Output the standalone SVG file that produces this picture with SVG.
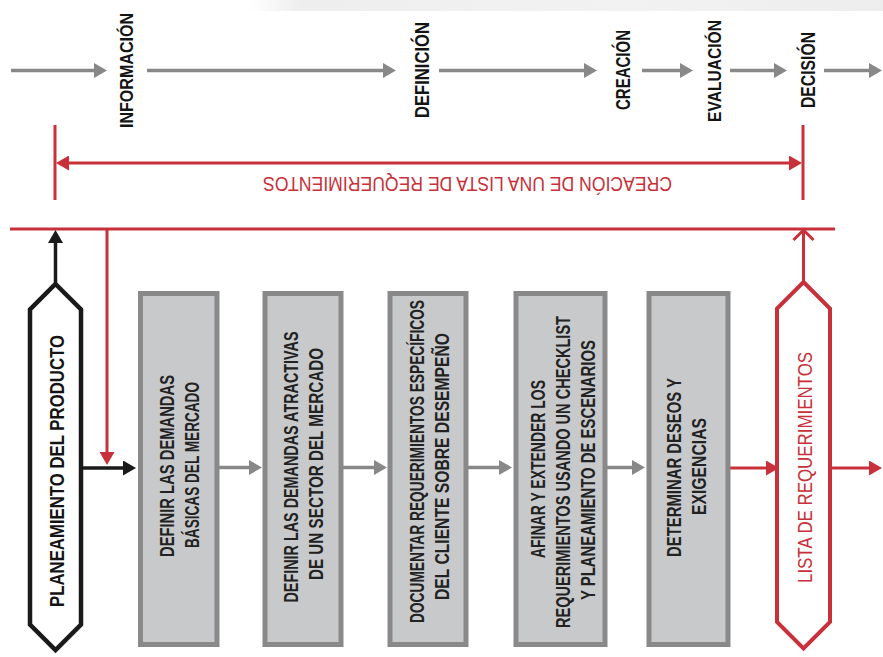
<svg xmlns="http://www.w3.org/2000/svg" width="883" height="657" viewBox="0 0 883 657">
<defs>
<style>
text { font-family: "Liberation Sans", Arial, sans-serif; }
.lbl { font-size: 20.5px; font-weight: bold; fill: #141414; }
.sm { font-size: 19px; }
.bt { font-size: 20.5px; font-weight: bold; fill: #222222; }
.ht { font-size: 21px; fill: #141414; font-weight: bold; }
.rt { font-size: 20.5px; fill: #c8303a; }
.box { fill: #c8c9cb; stroke: #898989; stroke-width: 5; }
.g { stroke: #888888; stroke-width: 3.5; fill: none; }
.r { stroke: #c8303a; stroke-width: 3; fill: none; }
.k { stroke: #1a1a1a; stroke-width: 3.5; fill: none; }
</style>
<linearGradient id="bg" x1="0" y1="0" x2="1" y2="0">
<stop offset="0" stop-color="#ffffff"/>
<stop offset="0.08" stop-color="#eeeeee"/>
<stop offset="0.6" stop-color="#f2f2f2"/>
<stop offset="1" stop-color="#ededed"/>
</linearGradient>
<marker id="ag" markerUnits="userSpaceOnUse" viewBox="0 0 13 15" markerWidth="13" markerHeight="15" refX="2" refY="7.5" orient="auto"><path d="M0,0 L13,7.5 L0,15z" fill="#888888"/></marker>
<marker id="ak" markerUnits="userSpaceOnUse" viewBox="0 0 13 15" markerWidth="13" markerHeight="15" refX="2" refY="7.5" orient="auto"><path d="M0,0 L13,7.5 L0,15z" fill="#1a1a1a"/></marker>
<marker id="ar" markerUnits="userSpaceOnUse" viewBox="0 0 13 15" markerWidth="13" markerHeight="15" refX="2" refY="7.5" orient="auto-start-reverse"><path d="M0,0 L13,7.5 L0,15z" fill="#c8303a"/></marker>
<marker id="aro" markerUnits="userSpaceOnUse" viewBox="0 0 12 22" markerWidth="12" markerHeight="22" refX="11" refY="11" orient="auto" overflow="visible"><path d="M1,1 L11,11 L1,21" fill="none" stroke="#c8303a" stroke-width="3"/></marker>
</defs>
<rect width="883" height="657" fill="#ffffff"/>
<rect x="250" y="0" width="633" height="11" fill="url(#bg)"/>

<g id="phase-labels">
<text class="lbl sm" transform="translate(133,70.5) rotate(-90)" text-anchor="middle" textLength="115" lengthAdjust="spacingAndGlyphs">INFORMACIÓN</text>
<text class="lbl" transform="translate(428.5,70) rotate(-90)" text-anchor="middle" textLength="96" lengthAdjust="spacingAndGlyphs">DEFINICIÓN</text>
<text class="lbl" transform="translate(629.5,70) rotate(-90)" text-anchor="middle" textLength="80" lengthAdjust="spacingAndGlyphs">CREACIÓN</text>
<text class="lbl sm" transform="translate(721,71) rotate(-90)" text-anchor="middle" textLength="102" lengthAdjust="spacingAndGlyphs">EVALUACIÓN</text>
<text class="lbl" transform="translate(814.5,70) rotate(-90)" text-anchor="middle" textLength="76" lengthAdjust="spacingAndGlyphs">DECISIÓN</text>
</g>

<g id="bracket">
<line class="r" x1="55" y1="125" x2="55" y2="200"/>
<line class="r" x1="803" y1="125" x2="803" y2="200"/>
<line class="r" x1="67" y1="163" x2="791" y2="163" marker-start="url(#ar)" marker-end="url(#ar)"/>
<text class="rt" transform="translate(467.5,177) rotate(180)" text-anchor="middle" textLength="409" lengthAdjust="spacingAndGlyphs">CREACIÓN DE UNA LISTA DE REQUERIMIENTOS</text>
</g>

<g id="connectors">
<line class="g" x1="11" y1="70.5" x2="96" y2="70.5" marker-end="url(#ag)"/>
<line class="g" x1="147" y1="70.5" x2="385" y2="70.5" marker-end="url(#ag)"/>
<line class="g" x1="439" y1="70.5" x2="586" y2="70.5" marker-end="url(#ag)"/>
<line class="g" x1="642" y1="70.5" x2="682" y2="70.5" marker-end="url(#ag)"/>
<line class="g" x1="730" y1="70.5" x2="776" y2="70.5" marker-end="url(#ag)"/>
<line class="g" x1="824" y1="70.5" x2="871" y2="70.5" marker-end="url(#ag)"/>
<line class="r" x1="10" y1="229" x2="835" y2="229"/>
<line class="r" x1="107" y1="229" x2="107" y2="454" marker-end="url(#ar)"/>
<line class="k" x1="55.5" y1="283" x2="55.5" y2="241" marker-end="url(#ak)"/>
<line class="k" x1="81" y1="468" x2="125" y2="468" marker-end="url(#ak)"/>
<line class="g" x1="219" y1="467.5" x2="251" y2="467.5" marker-end="url(#ag)"/>
<line class="g" x1="343" y1="467.5" x2="376" y2="467.5" marker-end="url(#ag)"/>
<line class="g" x1="468" y1="467.5" x2="501" y2="467.5" marker-end="url(#ag)"/>
<line class="g" x1="607" y1="467.5" x2="634" y2="467.5" marker-end="url(#ag)"/>
<line class="r" x1="730" y1="468" x2="768" y2="468" marker-end="url(#ar)"/>
<line class="r" x1="831" y1="468" x2="871" y2="468" marker-end="url(#ar)"/>
<line class="r" x1="803.5" y1="282" x2="803.5" y2="230" marker-end="url(#aro)"/>
</g>

<g id="planeamiento">
<polygon points="55.5,284 81,309.5 81,624.5 55.5,650 30,624.5 30,309.5" fill="#ffffff" stroke="#1a1a1a" stroke-width="4.5"/>
<text class="ht" transform="translate(63.5,471) rotate(-90)" text-anchor="middle" textLength="272" lengthAdjust="spacingAndGlyphs">PLANEAMIENTO DEL PRODUCTO</text>
</g>

<g id="box1">
<rect class="box" x="140.5" y="293.5" width="76.5" height="351"/>
<text class="bt" transform="translate(173.5,466) rotate(-90)" text-anchor="middle" textLength="182" lengthAdjust="spacingAndGlyphs">DEFINIR LAS DEMANDAS</text>
<text class="bt" transform="translate(198.5,465) rotate(-90)" text-anchor="middle" textLength="166" lengthAdjust="spacingAndGlyphs">BÁSICAS DEL MERCADO</text>
</g>

<g id="box2">
<rect class="box" x="265" y="293.5" width="76" height="351"/>
<text class="bt" transform="translate(297.5,467) rotate(-90)" text-anchor="middle" textLength="271" lengthAdjust="spacingAndGlyphs">DEFINIR LAS DEMANDAS ATRACTIVAS</text>
<text class="bt" transform="translate(322.5,464) rotate(-90)" text-anchor="middle" textLength="232" lengthAdjust="spacingAndGlyphs">DE UN SECTOR DEL MERCADO</text>
</g>

<g id="box3">
<rect class="box" x="390" y="293.5" width="76" height="351"/>
<text class="bt" transform="translate(423.5,461.5) rotate(-90)" text-anchor="middle" textLength="323" lengthAdjust="spacingAndGlyphs">DOCUMENTAR REQUERIMIENTOS ESPECÍFICOS</text>
<text class="bt" transform="translate(448.5,466.5) rotate(-90)" text-anchor="middle" textLength="267" lengthAdjust="spacingAndGlyphs">DEL CLIENTE SOBRE DESEMPEÑO</text>
</g>

<g id="box4">
<rect class="box" x="516" y="293.5" width="89" height="351"/>
<text class="bt" transform="translate(545,469) rotate(-90)" text-anchor="middle" textLength="178" lengthAdjust="spacingAndGlyphs">AFINAR Y EXTENDER LOS</text>
<text class="bt" transform="translate(570,472) rotate(-90)" text-anchor="middle" textLength="312" lengthAdjust="spacingAndGlyphs">REQUERIMIENTOS USANDO UN CHECKLIST</text>
<text class="bt" transform="translate(595,470) rotate(-90)" text-anchor="middle" textLength="260" lengthAdjust="spacingAndGlyphs">Y PLANEAMIENTO DE ESCENARIOS</text>
</g>

<g id="box5">
<rect class="box" x="649" y="293.5" width="79" height="351"/>
<text class="bt" transform="translate(680.5,467.5) rotate(-90)" text-anchor="middle" textLength="179" lengthAdjust="spacingAndGlyphs">DETERMINAR DESEOS Y</text>
<text class="bt" transform="translate(705.5,466.5) rotate(-90)" text-anchor="middle" textLength="97" lengthAdjust="spacingAndGlyphs">EXIGENCIAS</text>
</g>

<g id="lista">
<polygon points="803.5,282 830,308.5 830,622 803.5,648.5 777,622 777,308.5" fill="#ffffff" stroke="#c8303a" stroke-width="4"/>
<text class="rt" transform="translate(811.5,467.5) rotate(-90)" text-anchor="middle" textLength="231" lengthAdjust="spacingAndGlyphs">LISTA DE REQUERIMIENTOS</text>
</g>
</svg>
